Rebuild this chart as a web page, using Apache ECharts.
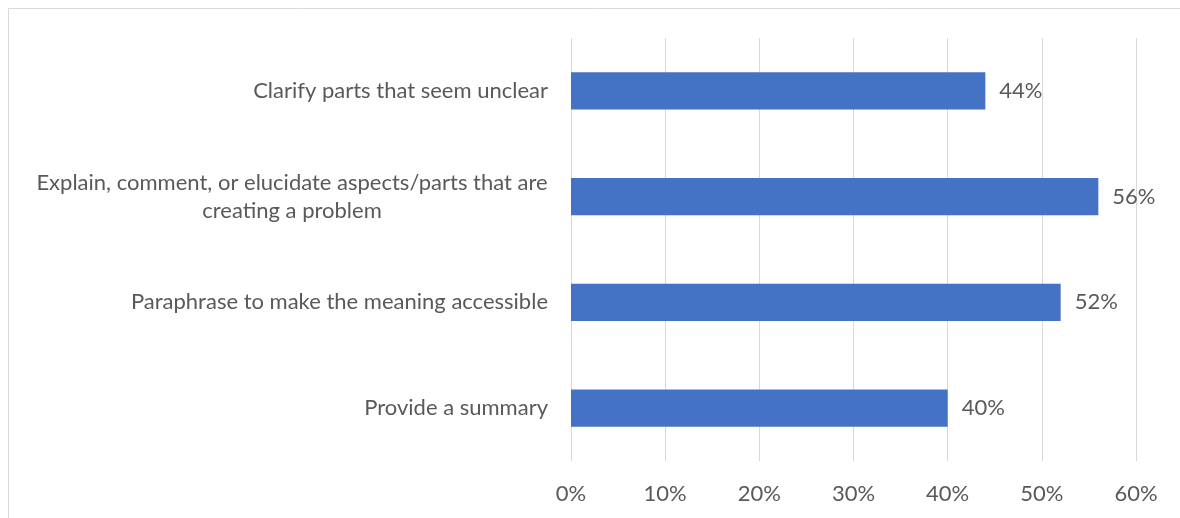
<!DOCTYPE html>
<html>
<head>
<meta charset="utf-8">
<script src="https://cdn.jsdelivr.net/npm/echarts@6/dist/echarts.min.js"></script>
<style>
  html, body { margin: 0; padding: 0; background: #fff; }
  #chart { width: 1180px; height: 518px; }
</style>
</head>
<body>
<div id="chart"></div>
<script>
// Survey responses, listed from top to bottom
const categories = [
  'Clarify parts that seem unclear',
  'Explain, comment, or elucidate aspects/parts that are\ncreating a problem',
  'Paraphrase to make the meaning accessible',
  'Provide a summary'
];
const shares = [44, 56, 52, 40];
const tickLabels = ['0%', '10%', '20%', '30%', '40%', '50%', '60%'];

const FONT = 'Lato';
const SIZE = 22;
const TEXT = '#595959';

// Width of the widest line, so wrapped labels stay right-aligned as a block
// while each line is centred inside it.
const measureCtx = document.createElement('canvas').getContext('2d');
measureCtx.font = SIZE + 'px ' + FONT;
function blockWidth(lines) {
  return Math.ceil(Math.max(...lines.map(l => measureCtx.measureText(l).width)));
}

function categoryLabel(value) {
  const lines = value.split('\n');
  if (lines.length === 1) return value;
  const key = 'w' + blockWidth(lines);
  return lines.map(l => '{' + key + '|' + l + '}').join('\n');
}

const rich = {};
categories.forEach(c => {
  const lines = c.split('\n');
  if (lines.length > 1) {
    const w = blockWidth(lines);
    rich['w' + w] = { color: TEXT, fontFamily: FONT, fontSize: SIZE, width: w, align: 'center', lineHeight: 28 };
  }
});

const chart = echarts.init(document.getElementById('chart'));

chart.setOption({
  animation: false,
  graphic: [{
    type: 'rect',
    shape: { x: 8.5, y: 8.5, width: 1200, height: 600 },
    style: { fill: 'none', stroke: '#d9d9d9', lineWidth: 1 }
  }],
  grid: { left: 571, right: 44, top: 38, bottom: 57 },
  xAxis: {
    type: 'value',
    min: 0, max: 60, interval: 10,
    axisLine: { show: false },
    axisTick: { show: false },
    splitLine: { lineStyle: { color: '#d9d9d9', width: 1 } },
    axisLabel: {
      color: TEXT, fontFamily: FONT, fontSize: SIZE, margin: 22,
      formatter: v => tickLabels[v / 10]
    }
  },
  yAxis: {
    type: 'category',
    inverse: true,
    data: categories,
    axisLine: { show: false },
    axisTick: { show: false },
    axisLabel: {
      color: TEXT, fontFamily: FONT, fontSize: SIZE, margin: 23, lineHeight: 28,
      formatter: categoryLabel,
      rich: rich
    }
  },
  series: [{
    type: 'bar',
    data: shares,
    barCategoryGap: '65%',
    itemStyle: { color: '#4472C4' },
    label: {
      show: true, position: 'right', distance: 14,
      color: TEXT, fontFamily: FONT, fontSize: SIZE,
      formatter: p => p.value + '%'
    }
  }]
});
</script>
</body>
</html>
